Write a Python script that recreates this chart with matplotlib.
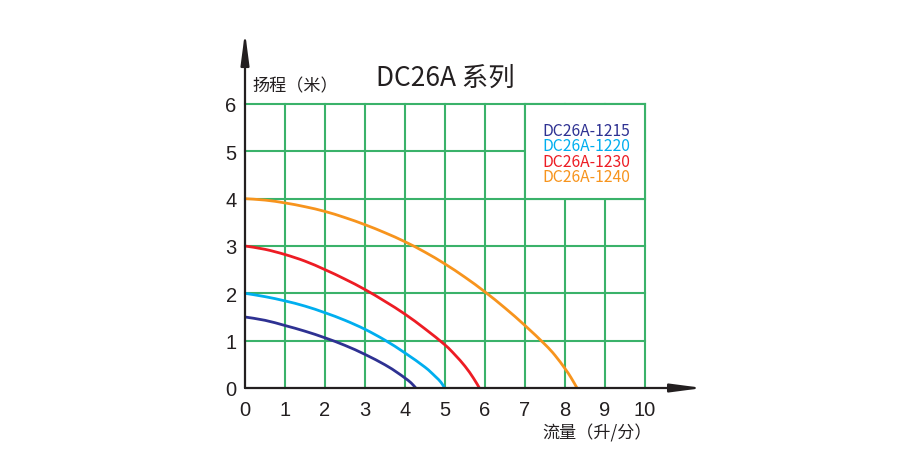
import numpy as np
import matplotlib
matplotlib.use('Agg')
import matplotlib.pyplot as plt
from matplotlib.patches import Rectangle, PathPatch
from matplotlib.path import Path

plt.rcParams['font.family'] = ['Noto Sans CJK SC', 'DejaVu Sans']

# curve points (flow, head)
flow_1215 = [0, 0.5, 1, 1.5, 2, 2.5, 3, 3.5, 3.8, 4, 4.15, 4.27]
head_1215 = [1.50, 1.43, 1.32, 1.20, 1.06, 0.90, 0.71, 0.49, 0.33, 0.21, 0.11, 0]
flow_1220 = [0, 0.5, 1, 1.5, 2, 2.5, 3, 3.5, 4, 4.5, 4.75, 4.9, 4.99]
head_1220 = [2.0, 1.93, 1.84, 1.73, 1.59, 1.43, 1.24, 1.01, 0.74, 0.44, 0.25, 0.12, 0]
flow_1230 = [0, 0.5, 1, 1.5, 2, 2.5, 3, 3.5, 4, 4.5, 5, 5.25, 5.5, 5.71, 5.86]
head_1230 = [3.0, 2.93, 2.82, 2.68, 2.50, 2.30, 2.08, 1.83, 1.56, 1.25, 0.91, 0.70, 0.46, 0.21, 0]
flow_1240 = [0, 0.5, 1, 1.5, 2, 2.5, 3, 3.5, 4, 4.5, 5, 5.5, 6, 6.5, 7, 7.5, 7.75, 8, 8.15, 8.3]
head_1240 = [4.0, 3.97, 3.91, 3.83, 3.73, 3.60, 3.45, 3.28, 3.09, 2.87, 2.62, 2.34, 2.03, 1.69, 1.32, 0.92, 0.69, 0.41, 0.22, 0]

names = ['DC26A-1215', 'DC26A-1220', 'DC26A-1230', 'DC26A-1240']
colors = ['#2e3192', '#00aeef', '#ed1c24', '#f7941d']
xticks = list(range(0, 11))
yticks = list(range(0, 7))


def smooth_path(xs, ys):
    # catmull-rom through the read points, drawn as bezier segments
    p = np.column_stack([xs, ys]).astype(float)
    ext = np.vstack([p[0], p, p[-1]])
    verts = [p[0]]
    codes = [Path.MOVETO]
    for i in range(1, len(ext) - 2):
        c1 = ext[i] + (ext[i + 1] - ext[i - 1]) / 6
        c2 = ext[i + 1] - (ext[i + 2] - ext[i]) / 6
        verts += [c1, c2, ext[i + 1]]
        codes += [Path.CURVE4] * 3
    return Path(verts, codes)


fig = plt.figure(figsize=(9, 4.77), dpi=100)
ax = fig.add_axes([245/900, 88/477, 400/900, 284/477])
ax.set_xlim(0, 10)
ax.set_ylim(0, 6)

grid_c = '#3ab26a'
for x in xticks[1:]:
    ax.plot([x, x], [0, 6], color=grid_c, lw=1.5, zorder=1, clip_on=False)
for y in yticks[1:]:
    ax.plot([0, 10], [y, y], color=grid_c, lw=1.5, zorder=1, clip_on=False)

# white legend box over the grid
ax.add_patch(Rectangle((7, 4), 3, 2, facecolor='white', edgecolor=grid_c,
                       lw=1.5, zorder=2, clip_on=False))

series = [(flow_1215, head_1215), (flow_1220, head_1220),
          (flow_1230, head_1230), (flow_1240, head_1240)]
for (fx, hy), c in zip(series, colors):
    ax.add_patch(PathPatch(smooth_path(fx, hy), facecolor='none', edgecolor=c,
                           lw=2, zorder=4, capstyle='butt'))

for i, (n, c) in enumerate(zip(names, colors)):
    ax.text(8.53, 5.45 - i * 0.33, n, color=c, fontsize=11.3, ha='center',
            va='center', zorder=5)

for s in ax.spines.values():
    s.set_visible(False)
ax.set_xticks(xticks)
ax.set_yticks(yticks)
ax.tick_params(length=0, labelsize=14.5, colors='#231f20')
ax.tick_params(axis='x', pad=9)
ax.tick_params(axis='y', pad=6)
for lab in ax.get_xticklabels() + ax.get_yticklabels():
    lab.set_family(['Liberation Sans', 'DejaVu Sans'])

# axes with arrows
ax.annotate('', xy=(0, 7.52), xytext=(0, 0), xycoords='data',
            arrowprops=dict(arrowstyle='-|>,head_length=1.9,head_width=0.25',
                            color='#231f20', lw=1.6, shrinkA=0, shrinkB=0),
            annotation_clip=False, zorder=6)
ax.annotate('', xy=(11.45, 0), xytext=(0, 0), xycoords='data',
            arrowprops=dict(arrowstyle='-|>,head_length=1.9,head_width=0.25',
                            color='#231f20', lw=1.6, shrinkA=0, shrinkB=0),
            annotation_clip=False, zorder=6)

fig.text(445/900, 1 - 78/477, 'DC26A 系列', fontsize=19, ha='center',
         va='center', color='#231f20')
fig.text(252/900, 1 - 86/477, '扬程（米）', fontsize=12.3, ha='left',
         va='center', color='#231f20')
fig.text(597/900, 1 - 433/477, '流量（升/分）', fontsize=12.3, ha='center',
         va='center', color='#231f20')

fig.savefig('out.png', dpi=100, facecolor='white')
